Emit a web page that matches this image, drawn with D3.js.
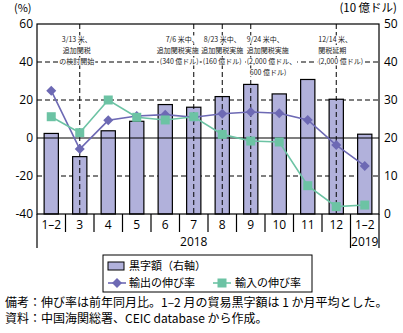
<!DOCTYPE html>
<html>
<head>
<meta charset="utf-8">
<script src="https://d3js.org/d3.v7.min.js"></script>
<style>
  body { margin: 0; background: #fff; }
  text { font-family: "Noto Sans CJK JP", "Noto Sans", sans-serif; }
</style>
</head>
<body>
  <div id="my_dataviz"></div>
  <script>
    // chart values
    var months = ["1\u20132","3","4","5","6","7","8","9","10","11","12","1\u20132"];
    var surplus = [21.2,15.1,21.9,24.4,28.8,28.1,30.9,34.1,31.6,35.4,30.2,21.0];   // 10 億ドル, right axis
    var exportGrowth = [24.9,-5.8,9.3,11.6,12.3,10.9,12.8,13.7,13.0,9.5,-3.7,-14.7]; // %
    var importGrowth = [11.2,2.8,20.0,10.9,9.5,11.2,1.9,-1.6,-2.1,-25.1,-36.1,-35.3]; // %
    var leftTicks = [-40,-20,0,20,40,60];
    var rightTicks = [0,10,20,30,40,50];
    var years = [{label:"2018", from:0, to:10}, {label:"2019", from:11, to:11}];
    var events = [
      {i:1, anchor:"middle", dx:-3, lines:["3/13 米、","追加関税","の検討開始"]},
      {i:5, anchor:"end", dx:5, lines:["7/6 米中、","追加関税実施","(340 億ドル)"]},
      {i:6, anchor:"middle", dx:0, lines:["8/23 米中、","追加関税実施","(160 億ドル)"]},
      {i:7, anchor:"start", dx:-4, lines:["9/24 米中、","追加関税実施","(2,000 億ドル、","600 億ドル)"]},
      {i:10, anchor:"start", dx:-18, lines:["12/14 米、","関税延期","(2,000 億ドル)"]}
    ];

    var W = 403, H = 333;
    var margin = {top:24, right:24, bottom:119, left:37};
    var width = W - margin.left - margin.right,
        height = H - margin.top - margin.bottom;

    var svg = d3.select("#my_dataviz")
      .append("svg")
      .attr("width", W)
      .attr("height", H);

    var g = svg.append("g")
      .attr("transform", "translate(" + margin.left + "," + margin.top + ")");

    var x = d3.scaleBand()
      .domain(d3.range(months.length))
      .range([0, width])
      .paddingInner(0.5)
      .paddingOuter(0.25);
    var yL = d3.scaleLinear().domain([-40, 60]).range([height, 0]);
    var yR = d3.scaleLinear().domain([0, 50]).range([height, 0]);

    var half = (x.step() - x.bandwidth()) / 2;
    function edge(i) { return x(i) - half; }
    function mid(i) { return x(i) + x.bandwidth() / 2; }

    // dashed grid
    g.selectAll(".grid")
      .data(leftTicks.filter(function(d){ return d != 0 && d != 60 && d != -40; }))
      .enter().append("line")
      .attr("x1", 0).attr("x2", width)
      .attr("y1", function(d){ return yL(d); })
      .attr("y2", function(d){ return yL(d); })
      .style("stroke", "#000").style("stroke-width", 1)
      .style("stroke-dasharray", "5,3");

    // bars
    g.selectAll(".bar")
      .data(surplus)
      .enter().append("rect")
      .attr("x", function(d, i){ return x(i); })
      .attr("width", x.bandwidth())
      .attr("y", function(d){ return yR(d); })
      .attr("height", function(d){ return yR(0) - yR(d); })
      .style("fill", "#b1b1db")
      .style("stroke", "#000").style("stroke-width", 1.2);

    // zero line
    g.append("line")
      .attr("x1", 0).attr("x2", width)
      .attr("y1", yL(0)).attr("y2", yL(0))
      .style("stroke", "#000").style("stroke-width", 1.2);

    // event lines
    g.selectAll(".ev")
      .data(events)
      .enter().append("line")
      .attr("x1", function(d){ return mid(d.i); })
      .attr("x2", function(d){ return mid(d.i); })
      .attr("y1", 0).attr("y2", height)
      .style("stroke", "#000").style("stroke-width", 1)
      .style("stroke-dasharray", "5,3");

    // annotations, white behind each line of text
    events.forEach(function(ev) {
      ev.lines.forEach(function(t, k) {
        var tx = g.append("text")
          .attr("x", mid(ev.i) + ev.dx + (k == 3 ? 3 : 0))
          .attr("y", yL(40) - 22 + k * 11)
          .attr("dy", "0.35em")
          .attr("text-anchor", ev.anchor)
          .style("font-size", "7px")
          .style("fill", "#222")
          .text(t);
        var b = tx.node().getBBox();
        g.insert("rect", function(){ return tx.node(); })
          .attr("x", b.x - 1).attr("y", b.y + 1)
          .attr("width", b.width + 2).attr("height", b.height - 2)
          .style("fill", "#fff");
      });
    });

    // lines
    var lineL = d3.line()
      .x(function(d, i){ return mid(i); })
      .y(function(d){ return yL(d); });

    g.append("path").datum(exportGrowth)
      .attr("d", lineL)
      .style("fill", "none").style("stroke", "#6d69b4").style("stroke-width", 1.6);
    g.append("path").datum(importGrowth)
      .attr("d", lineL)
      .style("fill", "none").style("stroke", "#6cc3a4").style("stroke-width", 1.6);

    var diamond = "M0,-5L5,0L0,5L-5,0Z";
    g.selectAll(".dm")
      .data(exportGrowth)
      .enter().append("path")
      .attr("d", diamond)
      .attr("transform", function(d, i){ return "translate(" + mid(i) + "," + yL(d) + ")"; })
      .style("fill", "#6d69b4");
    g.selectAll(".sq")
      .data(importGrowth)
      .enter().append("rect")
      .attr("x", function(d, i){ return mid(i) - 4.5; })
      .attr("y", function(d){ return yL(d) - 4.5; })
      .attr("width", 9).attr("height", 9)
      .style("fill", "#6cc3a4");

    // frame
    g.append("rect")
      .attr("width", width).attr("height", height)
      .style("fill", "none").style("stroke", "#000").style("stroke-width", 1.2);

    // y axis labels
    g.selectAll(".lt")
      .data(leftTicks)
      .enter().append("text")
      .attr("x", -4).attr("y", function(d){ return yL(d); })
      .attr("dy", "0.35em").attr("text-anchor", "end")
      .style("font-size", "12px").style("font-family", "Open Sans, sans-serif")
      .text(function(d){ return d; });
    g.selectAll(".rt")
      .data(rightTicks)
      .enter().append("text")
      .attr("x", width + 5).attr("y", function(d){ return yR(d); })
      .attr("dy", "0.35em").attr("text-anchor", "start")
      .style("font-size", "12px").style("font-family", "Open Sans, sans-serif")
      .text(function(d){ return d; });

    svg.append("text").attr("x", 14).attr("y", 8).attr("dy", "0.35em")
      .style("font-size", "11px").text("(%)");
    svg.append("text").attr("x", 397).attr("y", 8).attr("dy", "0.35em")
      .attr("text-anchor", "end")
      .style("font-size", "11.5px").text("(10 億ドル)");

    // x axis: category separators and year brackets
    g.selectAll(".sep")
      .data(d3.range(1, months.length))
      .enter().append("line")
      .attr("x1", function(i){ return edge(i); })
      .attr("x2", function(i){ return edge(i); })
      .attr("y1", height)
      .attr("y2", function(i){ return i == 11 ? height + 34 : height + 18; })
      .style("stroke", "#000").style("stroke-width", 1.2);
    [0, width].forEach(function(xx) {
      g.append("line").attr("x1", xx).attr("x2", xx)
        .attr("y1", height).attr("y2", height + 34)
        .style("stroke", "#000").style("stroke-width", 1.2);
    });
    g.selectAll(".xl")
      .data(months)
      .enter().append("text")
      .attr("x", function(d, i){ return mid(i); })
      .attr("y", height + 11).attr("dy", "0.35em")
      .attr("text-anchor", "middle")
      .style("font-size", "12px").style("font-family", "Open Sans, sans-serif")
      .text(function(d){ return d; });
    g.selectAll(".yr")
      .data(years)
      .enter().append("text")
      .attr("x", function(d){ return (edge(d.from) + edge(d.to) + x.step()) / 2; })
      .attr("y", height + 28).attr("dy", "0.35em")
      .attr("text-anchor", "middle")
      .style("font-size", "12px").style("font-family", "Open Sans, sans-serif")
      .text(function(d){ return d.label; });

    // legend
    var lg = svg.append("g");
    lg.append("rect").attr("x", 103).attr("y", 255).attr("width", 209).attr("height", 37)
      .style("fill", "#fff").style("stroke", "#000").style("stroke-width", 1);
    lg.append("rect").attr("x", 108).attr("y", 262).attr("width", 16).attr("height", 8)
      .style("fill", "#b1b1db").style("stroke", "#000").style("stroke-width", 1);
    lg.append("text").attr("x", 129).attr("y", 266).attr("dy", "0.35em")
      .style("font-size", "11px").text("黒字額（右軸）");
    lg.append("line").attr("x1", 108).attr("x2", 126).attr("y1", 283).attr("y2", 283)
      .style("stroke", "#6d69b4").style("stroke-width", 1.6);
    lg.append("path").attr("d", diamond).attr("transform", "translate(117,283)")
      .style("fill", "#6d69b4");
    lg.append("text").attr("x", 129).attr("y", 283).attr("dy", "0.35em")
      .style("font-size", "11px").text("輸出の伸び率");
    lg.append("line").attr("x1", 213).attr("x2", 231).attr("y1", 283).attr("y2", 283)
      .style("stroke", "#6cc3a4").style("stroke-width", 1.6);
    lg.append("rect").attr("x", 217.5).attr("y", 278.5).attr("width", 9).attr("height", 9)
      .style("fill", "#6cc3a4");
    lg.append("text").attr("x", 235).attr("y", 283).attr("dy", "0.35em")
      .style("font-size", "11px").text("輸入の伸び率");

    // notes
    svg.append("text").attr("x", 5).attr("y", 303).attr("dy", "0.35em")
      .style("font-size", "12px")
      .text("備考：伸び率は前年同月比。1\u20132 月の貿易黒字額は 1 か月平均とした。");
    svg.append("text").attr("x", 5).attr("y", 319).attr("dy", "0.35em")
      .style("font-size", "12px")
      .text("資料：中国海関総署、CEIC database から作成。");
  </script>
</body>
</html>
